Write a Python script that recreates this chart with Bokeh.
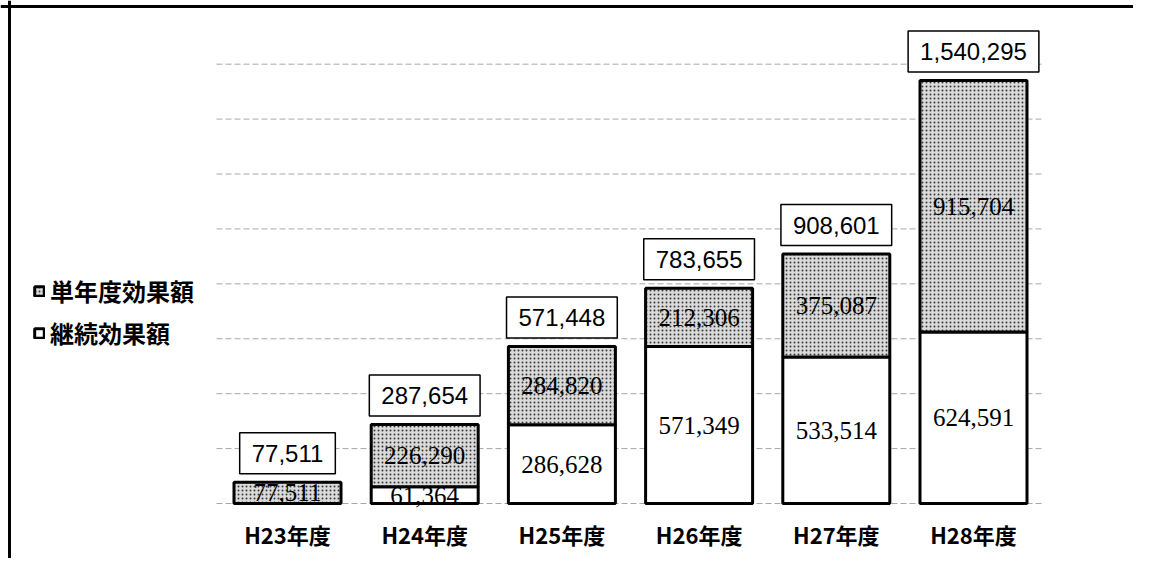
from bokeh.plotting import figure
from bokeh.models import Range1d, Legend, LegendItem, ColumnDataSource, Span
from bokeh.core.properties import value
from bokeh.embed import file_html
from bokeh.resources import INLINE

categories = ["H23年度", "H24年度", "H25年度", "H26年度", "H27年度", "H28年度"]
keizoku = [0, 61364, 286628, 571349, 533514, 624591]        # 継続効果額
tannendo = [77511, 226290, 284820, 212306, 375087, 915704]  # 単年度効果額
grid_ticks = [0, 200000, 400000, 600000, 800000, 1000000, 1200000, 1400000, 1600000]
series_names = ["単年度効果額", "継続効果額"]

W, H = 1133, 558
X0PX, DX = 287, 137.2
Y0PX, UPP = 503, 3642.0

xs = list(range(len(categories)))
totals = [a + b for a, b in zip(keizoku, tannendo)]

def fmt(v):
    return f"{v:,}"

src = ColumnDataSource(dict(
    x=xs, cat=categories, k=keizoku, t=tannendo, tot=totals,
    k_mid=[k / 2 for k in keizoku],
    t_mid=[k + t / 2 for k, t in zip(keizoku, tannendo)],
    k_lab=[fmt(k) if k > 0 else "" for k in keizoku],
    t_lab=[fmt(t) for t in tannendo],
    tot_lab=[fmt(v) for v in totals],
    zero=[0] * len(categories),
))

p = figure(width=W, height=H, output_backend="svg", toolbar_location=None,
           x_range=Range1d(-X0PX / DX, (W - X0PX) / DX),
           y_range=Range1d(-(H - Y0PX) * UPP, Y0PX * UPP),
           min_border=0, outline_line_color=None)
p.axis.visible = False
p.grid.visible = False
p.background_fill_color = "white"
p.border_fill_color = "white"

gx0 = (216 - X0PX) / DX
gx1 = (1042 - X0PX) / DX
p.segment(x0=[gx0] * len(grid_ticks), x1=[gx1] * len(grid_ticks), y0=grid_ticks, y1=grid_ticks,
          line_color="#a8a8a8", line_width=1, line_dash="6 3")

bw = 107 / DX
r_bot = p.vbar(x="x", width=bw, bottom=0, top="k", source=src,
               fill_color="white", line_color="black", line_width=3)
r_top = p.vbar(x="x", width=bw, bottom="k", top="tot", source=src,
               fill_color="#dadada", hatch_pattern=".", hatch_scale=4, hatch_weight=1,
               hatch_color="#3a3a3a", line_color="black", line_width=3)

serif = value("Liberation Serif")
p.text(x="x", y="k_mid", text="k_lab", source=src, text_font=serif, text_font_size="25px",
       text_align="center", text_baseline="middle", text_color="black")
p.text(x="x", y="t_mid", text="t_lab", source=src, text_font=serif, text_font_size="25px",
       text_align="center", text_baseline="middle", text_color="black")

p.text(x="x", y="tot", text="tot_lab", source=src, text_font=value("Liberation Sans"),
       text_font_size="24px", text_align="center", text_baseline="middle", text_color="black",
       y_offset=-29, background_fill_color="white", border_line_color="black",
       border_line_width=1.5, padding=12)

p.text(x="x", y="zero", text="cat", source=src, text_font=value("Noto Sans CJK JP"),
       text_font_size="22px", text_font_style="bold", text_align="center",
       text_baseline="middle", text_color="black", y_offset=30)

legend = Legend(items=[LegendItem(label=series_names[0], renderers=[r_top]),
                       LegendItem(label=series_names[1], renderers=[r_bot])],
                location=(33, 208), padding=0, margin=0, spacing=7,
                glyph_width=12, glyph_height=12, label_height=28, label_standoff=5,
                label_text_font="Noto Sans CJK JP", label_text_font_size="24px",
                label_text_font_style="bold", label_text_color="black",
                border_line_color=None, background_fill_alpha=0)
p.add_layout(legend, "center")

p.add_layout(Span(location=(Y0PX - 6) * UPP, dimension="width", line_color="black", line_width=3))
p.add_layout(Span(location=(9 - X0PX) / DX, dimension="height", line_color="black", line_width=3))

open("out.html", "w").write(file_html(p, INLINE))
